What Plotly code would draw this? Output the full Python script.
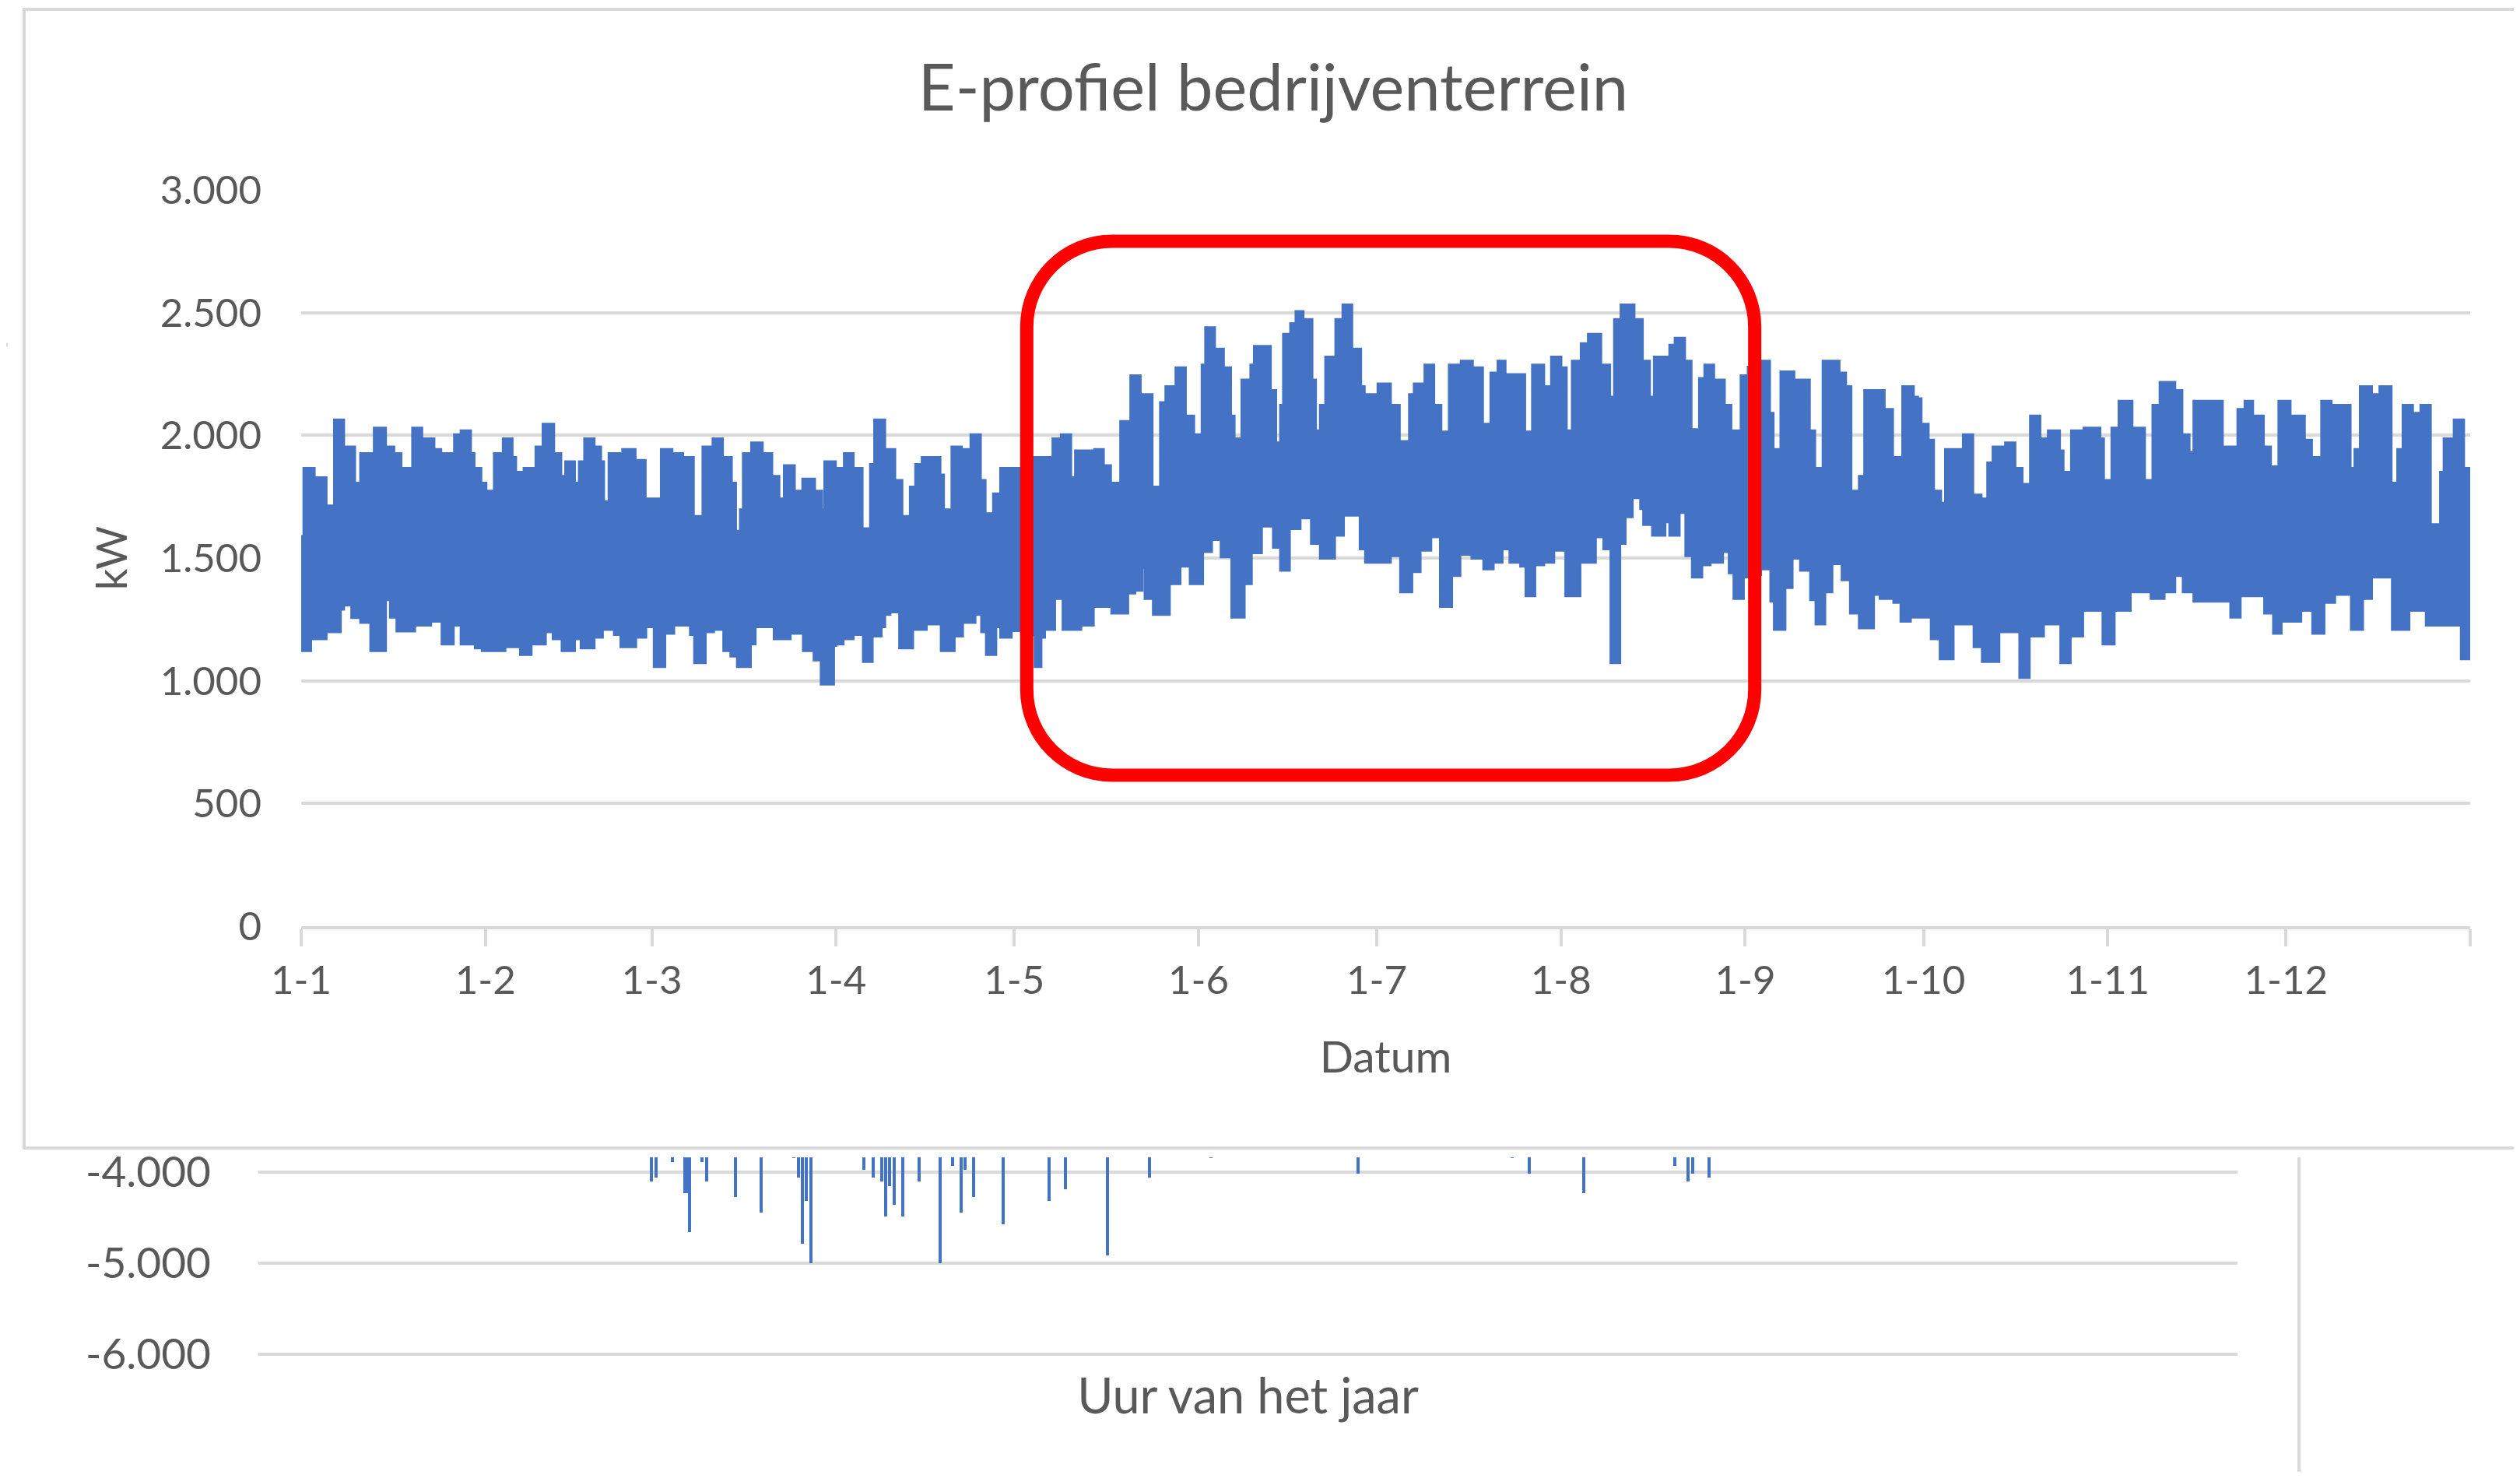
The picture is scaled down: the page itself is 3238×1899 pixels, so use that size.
import plotly.graph_objects as go

PAGE_W, PAGE_H, BODY_MARGIN = 3238, 1899, 8
W, H = PAGE_W - 2 * BODY_MARGIN, PAGE_H - 2 * BODY_MARGIN

# ---------------- data: main chart (envelope of the hourly load profile) ----------------
# day-of-year where a new level starts, and the daily peak level (kW)
UPPER_DAY = [0.0, 0.35, 2.3, 4.3, 5.5, 7.25, 9.1, 9.9, 12.2, 14.3, 15.7, 16.9, 18.65, 20.4, 22.45, 23.6,
             25.7, 26.8, 28.6, 29.2, 30.35, 31.2, 32.4, 33.9, 35.6, 36.2, 37.4, 39.4, 40.6, 42.6, 43.8,
             44.4, 46.1, 46.7, 47.6, 49.4, 50.5, 51.0, 51.7, 54.0, 56.3, 58.0, 60.5, 62.5, 64.3, 66.1,
             67.5, 69.2, 71.0, 72.5, 73.2, 73.8, 74.3, 75.7, 77.7, 79.3, 80.5, 81.2, 83.1, 84.3, 86.5,
             87.7, 88.0, 90.0, 91.3, 93.0, 94.5, 95.7, 96.4, 98.3, 100.0, 101.2, 102.4, 103.3, 104.4,
             107.6, 108.2, 109.4, 111.2, 112.6, 114.4, 115.2, 116.4, 117.6, 123.1, 126.4, 127.8, 129.6,
             130.2, 133.4, 135.1, 136.3, 137.8, 139.5, 141.3, 143.3, 144.5, 145.4, 147.1, 148.9, 150.3,
             151.5, 152.1, 153.8, 155.3, 156.5, 157.1, 158.2, 159.7, 160.3, 163.2, 164.1, 164.7, 165.2,
             166.4, 167.3, 168.7, 170.2, 170.8, 171.4, 172.3, 174.0, 175.2, 176.9, 178.4, 179.0, 181.1,
             183.4, 184.9, 186.4, 187.2, 189.0, 190.7, 191.9, 193.1, 195.1, 197.2, 198.9, 200.1, 201.3,
             202.7, 206.0, 207.1, 209.2, 210.3, 212.1, 213.0, 213.8, 215.3, 216.5, 218.8, 220.3, 220.9,
             222.0, 224.4, 225.8, 227.0, 227.6, 230.2, 231.1, 232.9, 234.0, 235.2, 236.1, 237.8, 239.6,
             240.7, 242.2, 243.4, 245.7, 247.2, 247.8, 248.9, 251.3, 253.9, 254.8, 256.0, 258.9, 260.0,
             260.9, 262.1, 263.0, 266.5, 267.9, 269.4, 271.4, 272.1, 272.7, 273.9, 274.8, 276.0, 276.6,
             279.6, 281.4, 282.8, 283.7, 284.6, 286.7, 288.5, 289.7, 290.9, 292.7, 293.9, 296.0, 296.6,
             297.8, 299.9, 302.8, 303.4, 304.6, 305.8, 308.2, 310.3, 311.5, 312.7, 315.4, 316.6, 317.8,
             318.4, 323.4, 325.8, 327.0, 328.5, 330.3, 331.5, 332.7, 334.8, 337.2, 338.4, 339.9, 341.7,
             344.9, 345.5, 346.4, 348.5, 349.7, 351.8, 352.7, 353.6, 355.4, 356.6, 358.4, 359.9, 360.5,
             362.2, 364.0, 365.0]
UPPER_KW = [1590, 1868, 1830, 1715, 2065, 1955, 1808, 1928, 2032, 1955, 1928, 1868, 2032, 1988, 1945, 1928,
            2005, 2021, 1928, 1868, 1808, 1775, 1928, 1988, 1912, 1852, 1868, 1955, 2048, 1928, 1835,
            1895, 1808, 1895, 1988, 1955, 1895, 1732, 1928, 1945, 1900, 1743, 1945, 1928, 1912, 1672,
            1955, 1988, 1912, 1808, 1612, 1699, 1928, 1972, 1928, 1835, 1743, 1879, 1775, 1824, 1775,
            1699, 1895, 1868, 1928, 1868, 1622, 1884, 2065, 1945, 1819, 1672, 1792, 1884, 1912,
            1841, 1699, 1955, 1945, 2005, 1819, 1683, 1764, 1868, 1912, 1988, 2005, 1830,
            1939, 1945, 1879, 1808, 2059, 2245, 2168, 1792, 2136, 2201, 2278, 2081, 2005,
            2289, 2441, 2354, 2278, 2081, 1988, 2228, 2289, 2365, 2185, 1972, 2125, 2414,
            2458, 2507, 2474, 2228, 2021, 2125, 2321, 2474, 2534, 2354, 2201, 2168, 2212,
            2125, 1977, 2168, 2212, 2289, 2125, 2016, 2289, 2305, 2278, 2048, 2256, 2305,
            2250, 2016, 2289, 2201, 2321, 2278, 2021, 2305, 2376, 2414, 2289, 2158, 2474,
            2534, 2474, 2305, 2158, 2321, 2370, 2398, 2305, 2026, 2234, 2289, 2228, 2125,
            2021, 2245, 2280, 2305, 2092, 1945, 2261, 2228, 2021, 1868, 2305, 2256, 2201,
            1775, 1835, 2185, 2108, 1912, 2201, 2158, 2152, 2048, 1983, 1775, 1726, 1945,
            2005, 1759, 1743, 1890, 1955, 1972, 1868, 1803, 2081, 1988, 2021, 1939, 1852,
            2021, 2032, 1988, 1819, 2032, 2141, 2032, 1819, 2125, 2218, 2185, 2005, 1934,
            2141, 1955, 2108, 2141, 2081, 1955, 1874, 2141, 2081, 1983, 1912, 2141, 2125,
            1868, 1945, 2201, 2168, 2201, 1808, 1945, 2125, 2092, 2125, 1639, 1852, 1988,
            2065, 1868, 1868]

# day-of-year where a new level starts, and the daily minimum level (kW)
LOWER_DAY = [0.0, 1.7, 4.3, 6.7, 7.25, 8.4, 9.9, 11.6, 14.3, 14.9, 16.0, 19.2, 21.9, 23.6, 25.7, 26.8,
             29.2, 30.35, 34.4, 36.8, 38.8, 41.2, 42.3, 43.8, 46.1, 47.0, 49.4, 50.8, 52.6, 53.7, 56.4,
             58.1, 59.3, 61.3, 62.8, 65.4, 66.1, 68.1, 69.5, 71.0, 72.2, 73.3, 75.7, 76.5, 79.5, 82.4,
             84.4, 86.2, 87.4, 89.7, 90.1, 91.3, 93.0, 94.5, 96.2, 97.7, 98.3, 99.2, 100.6, 103.0, 105.3,
             107.6, 110.0, 111.4, 113.5, 114.4, 115.2, 117.0, 117.6, 119.6, 121.1, 123.4, 124.6, 125.2,
             126.9, 128.1, 131.3, 133.4, 136.3, 139.2, 140.4, 141.6, 141.9, 143.3, 146.2, 148.0, 149.5,
             151.8, 153.3, 154.7, 156.5, 158.8, 160.0, 161.7, 163.5, 164.7, 166.4, 168.2, 169.9, 171.4,
             174.0, 175.5, 178.1, 179.0, 181.1, 183.4, 184.9, 187.0, 188.4, 190.2, 191.6, 193.7, 195.1,
             196.9, 198.9, 200.7, 202.2, 203.3, 205.1, 206.0, 207.7, 209.2, 210.9, 212.7, 215.3, 217.9,
             219.1, 220.3, 222.0, 222.9, 224.1, 225.3, 225.8, 227.3, 229.6, 230.2, 232.0, 232.9, 234.0,
             235.8, 237.2, 239.3, 240.2, 241.0, 242.8, 244.6, 245.7, 247.2, 247.8, 249.8, 251.0, 252.2,
             253.9, 254.8, 256.5, 257.7, 259.2, 260.6, 262.1, 264.7, 265.6, 267.9, 269.1, 270.9, 272.1,
             274.2, 275.7, 278.1, 281.4, 282.8, 285.8, 289.1, 290.9, 293.3, 296.0, 297.8, 299.9, 303.1,
             305.2, 307.9, 311.2, 313.6, 315.4, 316.6, 318.4, 324.6, 326.4, 330.3, 331.8, 333.3, 336.6,
             338.4, 340.5, 342.3, 344.9, 347.0, 348.5, 351.8, 354.8, 357.5, 363.4, 365.0]
LOWER_KW = [1120, 1169, 1197, 1289, 1306, 1255, 1235, 1120, 1328, 1257, 1200, 1224, 1240, 1147, 1224, 1147,
            1131, 1120, 1136, 1104, 1147, 1197, 1169, 1120, 1169, 1131, 1175, 1207, 1186, 1136, 1175,
            1218, 1055, 1191, 1224, 1186, 1071, 1197, 1207, 1120, 1098, 1055, 1147, 1218, 1169, 1191,
            1120, 1082, 984, 1142, 1147, 1169, 1186, 1076, 1180, 1218, 1268, 1278, 1131, 1207, 1229,
            1120, 1180, 1235, 1268, 1197, 1104, 1218, 1175, 1202, 1186, 1055, 1175, 1207,
            1333, 1207, 1224, 1300, 1273, 1355, 1366, 1459, 1333, 1268, 1393, 1464, 1393,
            1524, 1573, 1502, 1257, 1393, 1519, 1628, 1541, 1448, 1617, 1661, 1557, 1497,
            1590, 1672, 1535, 1480, 1480, 1507, 1360, 1442, 1529, 1584, 1300, 1426, 1513,
            1497, 1453, 1480, 1535, 1480, 1464, 1344, 1470, 1480, 1529, 1344, 1480, 1584,
            1535, 1071, 1557, 1666, 1743, 1699, 1634, 1590, 1645, 1590, 1683, 1507, 1420,
            1470, 1480, 1524, 1437, 1333, 1420, 1430, 1453, 1322, 1207, 1377, 1497, 1448,
            1328, 1229, 1360, 1475, 1409, 1273, 1213, 1349, 1333, 1317, 1240, 1257, 1257,
            1169, 1087, 1229, 1136, 1076, 1197, 1011, 1180, 1229, 1071, 1180, 1284, 1147,
            1284, 1360, 1333, 1360, 1426, 1360, 1322, 1257, 1344, 1273, 1191, 1240, 1284,
            1191, 1317, 1349, 1207, 1333, 1420, 1207, 1284, 1224, 1087, 1087]

MONTH_START_DAY = [0, 31, 59, 90, 120, 151, 181, 212, 243, 273, 304, 334, 365]
MONTH_LABELS = ["1-1", "1-2", "1-3", "1-4", "1-5", "1-6", "1-7", "1-8", "1-9", "1-10", "1-11", "1-12", ""]

# highlighted period (red box): day range and kW range
HL_DAY = [122.1, 244.6]
HL_KW = [615, 2791]

# ---------------- data: lower (partly hidden) chart ----------------
SPIKE_HOUR = [1740, 1760, 1833, 1888, 1901, 1908, 1963, 1984, 2112, 2225, 2370, 2391, 2408, 2425, 2446,
              2680, 2721, 2759, 2776, 2794, 2814, 2852, 2925, 3018, 3073, 3111, 3128, 3166, 3297, 3500,
              3572, 3758, 3944, 4216, 4867, 5549, 5625, 5866, 6269, 6328, 6349, 6421]
SPIKE_KW = [-4103, -4060, -3890, -4230, -4230, -4660, -3890, -4100, -4275, -4445, -3850, -4060, -4790,
            -4320, -5000, -3975, -4060, -4100, -4490, -4150, -4360, -4490, -4100, -5000, -3930, -4445,
            -3975, -4275, -4575, -4320, -4190, -4915, -4060, -3850, -4020, -3850, -4020, -4230, -3930,
            -4100, -4020, -4060]
LOWER_TICKS = [-6000, -5000, -4000]
LOWER_TICKTEXT = ["-6.000", "-5.000", "-4.000"]

BLUE = "#4472C4"
GRID = "#D9D9D9"
TXT = "#595959"
FONT = "Lato"


def px_x(p):
    return (p - BODY_MARGIN) / W


def px_y(p):
    return 1 - (p - BODY_MARGIN) / H


fig = go.Figure()

fig.add_trace(go.Scatter(x=LOWER_DAY, y=LOWER_KW, mode="lines", line=dict(color=BLUE, width=2, shape="hv"),
                         showlegend=False, hoverinfo="skip", xaxis="x", yaxis="y"))
fig.add_trace(go.Scatter(x=UPPER_DAY, y=UPPER_KW, mode="lines", line=dict(color=BLUE, width=2, shape="hv"),
                         fill="tonexty", fillcolor=BLUE, showlegend=False, hoverinfo="skip",
                         xaxis="x", yaxis="y"))

fig.add_trace(go.Bar(x=SPIKE_HOUR, y=SPIKE_KW, width=12, marker=dict(color=BLUE, line=dict(width=0)),
                     showlegend=False, xaxis="x2", yaxis="y2"))

# rounded red highlight box in data coordinates
x0, x1 = HL_DAY
y0, y1 = HL_KW
rx, ry = 14.4, 349.0
k = 0.5523
path = (f"M {x0+rx},{y1} L {x1-rx},{y1} "
        f"C {x1-rx+k*rx},{y1} {x1},{y1-ry+k*ry} {x1},{y1-ry} "
        f"L {x1},{y0+ry} "
        f"C {x1},{y0+ry-k*ry} {x1-rx+k*rx},{y0} {x1-rx},{y0} "
        f"L {x0+rx},{y0} "
        f"C {x0+rx-k*rx},{y0} {x0},{y0+ry-k*ry} {x0},{y0+ry} "
        f"L {x0},{y1-ry} "
        f"C {x0},{y1-ry+k*ry} {x0+rx-k*rx},{y1} {x0+rx},{y1} Z")

shapes = [
    # chart frame of the upper chart
    dict(type="rect", xref="paper", yref="paper", x0=px_x(31), x1=1.02, y0=px_y(1475), y1=px_y(12),
         line=dict(color=GRID, width=4), fillcolor="rgba(0,0,0,0)", layer="below"),
    # right border of the lower chart
    dict(type="line", xref="paper", yref="paper", x0=px_x(2954), x1=px_x(2954), y0=px_y(1487), y1=-0.02,
         line=dict(color=GRID, width=4)),
    # small stray mark at the left edge
    dict(type="line", xref="paper", yref="paper", x0=0, x1=px_x(10), y0=px_y(443), y1=px_y(443),
         line=dict(color=GRID, width=5)),
    dict(type="path", xref="x", yref="y", path=path, line=dict(color="#FF0000", width=17),
         fillcolor="rgba(0,0,0,0)", layer="above"),
]

fig.update_layout(
    width=W, height=H, autosize=False,
    margin=dict(l=0, r=0, t=0, b=0, pad=0),
    paper_bgcolor="white", plot_bgcolor="white",
    separators=",.",
    font=dict(family=FONT, color=TXT, size=50),
    title=dict(text="E-profiel bedrijventerrein", x=px_x(1636), y=px_y(113), xanchor="center", yanchor="middle",
               font=dict(family=FONT, size=83, color=TXT)),
    xaxis=dict(domain=[px_x(387), px_x(3174)], range=[0, 365], tickvals=MONTH_START_DAY, ticktext=MONTH_LABELS,
               automargin=False,
               showgrid=False, zeroline=False, showline=True, linecolor=GRID, linewidth=4,
               ticks="outside", ticklen=22, tickwidth=4, tickcolor=GRID, ticklabelstandoff=0,
               tickfont=dict(size=51, color=TXT),
               title=dict(text="Datum", font=dict(size=57, color=TXT), standoff=52)),
    yaxis=dict(domain=[px_y(1190), px_y(244)], range=[0, 3000], dtick=500, tickformat=",d",
               automargin=False,
               showgrid=True, gridcolor=GRID, gridwidth=4, zeroline=False, showline=False,
               ticks="", ticklabelstandoff=50, tickfont=dict(size=51, color=TXT),
               title=dict(text="kW", font=dict(size=54, color=TXT), standoff=24)),
    xaxis2=dict(domain=[px_x(332), px_x(2875)], range=[0, 8760], anchor="y2", automargin=False,
                showgrid=False, zeroline=False, showline=False, showticklabels=False, ticks="",
                title=dict(text="Uur van het jaar", font=dict(size=63, color=TXT), standoff=28)),
    yaxis2=dict(domain=[px_y(1743.5), px_y(1487)], range=[-6030, -3838], anchor="x2", automargin=False,
                tickvals=LOWER_TICKS, ticktext=LOWER_TICKTEXT,
                showgrid=True, gridcolor=GRID, gridwidth=4, zeroline=False, showline=False,
                ticks="", ticklabelstandoff=60, tickfont=dict(size=55, color=TXT)),
    shapes=shapes,
    bargap=0,
)

fig.write_html("out.html")
